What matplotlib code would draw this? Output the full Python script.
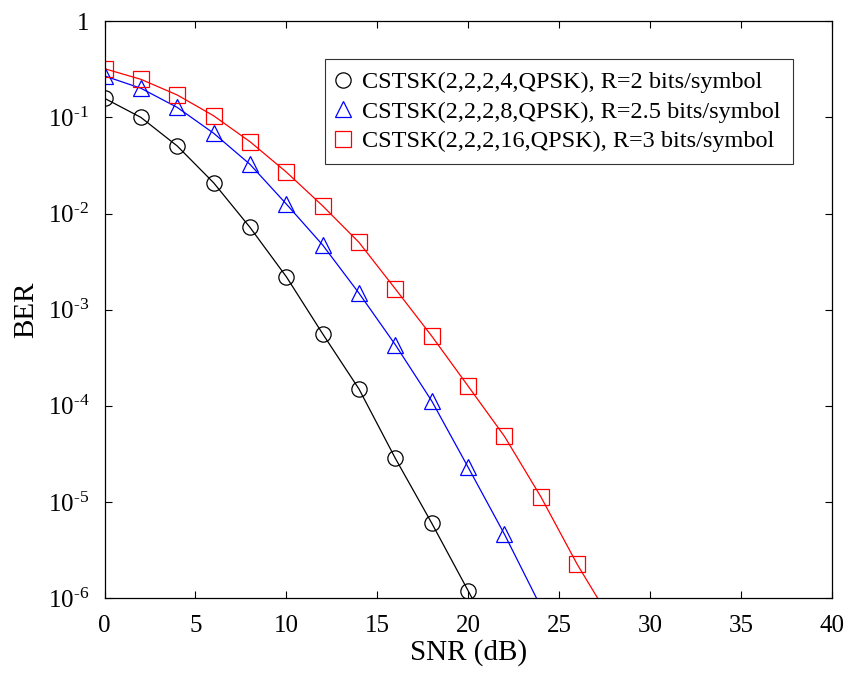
import numpy as np
import matplotlib
matplotlib.use("Agg")
import matplotlib.pyplot as plt
from matplotlib.ticker import FixedLocator, FuncFormatter, NullLocator

plt.rcParams["font.family"] = ["Liberation Serif", "DejaVu Serif"]
plt.rcParams["mathtext.fontset"] = "custom"
plt.rcParams["mathtext.rm"] = "Liberation Serif"
plt.rcParams["mathtext.it"] = "Liberation Serif:italic"

# SNR points (dB); the last point of each curve lies just below the 1e-6 floor
snr_4 = [0, 2, 4, 6, 8, 10, 12, 14, 16, 18, 20, 22]
ber_4 = [0.158, 0.100, 0.0504, 0.0209, 0.00718, 0.0022, 5.6e-4, 1.49e-4,
         2.83e-5, 6.0e-6, 1.19e-6, 2.3e-7]

snr_8 = [0, 2, 4, 6, 8, 10, 12, 14, 16, 18, 20, 22, 24]
ber_8 = [0.27, 0.201, 0.127, 0.0685, 0.0325, 0.01256, 4.7e-3, 1.48e-3,
         4.3e-4, 1.12e-4, 2.29e-5, 4.6e-6, 8.1e-7]

snr_16 = [0, 2, 4, 6, 8, 10, 12, 14, 16, 18, 20, 22, 24, 26, 28]
ber_16 = [0.321, 0.249, 0.171, 0.104, 0.0559, 0.027, 0.0120, 5.0e-3,
          1.64e-3, 5.3e-4, 1.6e-4, 4.8e-5, 1.13e-5, 2.24e-6, 5.3e-7]

labels = [
    "CSTSK(2,2,2,4,QPSK), R=2 bits/symbol",
    "CSTSK(2,2,2,8,QPSK), R=2.5 bits/symbol",
    "CSTSK(2,2,2,16,QPSK), R=3 bits/symbol",
]
colors = ["black", "blue", "red"]
markers = ["o", "^", "s"]
y_min, y_max = 1e-6, 1

fig = plt.figure(figsize=(8.47, 6.73), dpi=100)
ax = fig.add_axes([0.1234, 0.1114, 0.8586, 0.857])

handles = []
for snr, ber, c, m, lab in zip([snr_4, snr_8, snr_16], [ber_4, ber_8, ber_16],
                               colors, markers, labels):
    snr = np.array(snr)
    ber = np.array(ber)
    ax.plot(snr, ber, "-", color=c, lw=0.9)
    vis = ber >= y_min
    h, = ax.plot(snr[vis], ber[vis], linestyle="none", marker=m, ms=11,
                 mfc="none", mec=c, mew=0.9, label=lab)
    handles.append(h)

ax.set_yscale("log")
ax.set_xlim(0, 40)
ax.set_ylim(y_min, y_max)
ax.set_xticks(range(0, 41, 5))
ax.yaxis.set_major_locator(FixedLocator([10.0 ** k for k in range(-6, 1)]))
ax.yaxis.set_minor_locator(NullLocator())
ax.yaxis.set_major_formatter(FuncFormatter(
    lambda v, p: "1" if v >= 1 else r"$10^{\text{-}%d}$" % round(-np.log10(v))))

ax.tick_params(which="both", direction="in", top=True, right=True,
               length=5, width=0.8, labelsize=18)
ax.tick_params(axis="x", pad=12)
ax.tick_params(axis="y", pad=11)
for s in ax.spines.values():
    s.set_linewidth(0.9)

ax.set_xlabel("SNR (dB)", fontsize=21, labelpad=2)
ax.set_ylabel("BER", fontsize=21, labelpad=6)

leg = ax.legend(handles=handles, loc="upper right", fontsize=17.5,
                bbox_to_anchor=(0.9468, 0.9346), frameon=True, fancybox=False,
                edgecolor="black", handlelength=0.47, handletextpad=0.55,
                borderpad=0.5, labelspacing=0.31, borderaxespad=0)
leg.get_frame().set_linewidth(0.8)

plt.savefig("out.png", dpi=100)
plt.close()
